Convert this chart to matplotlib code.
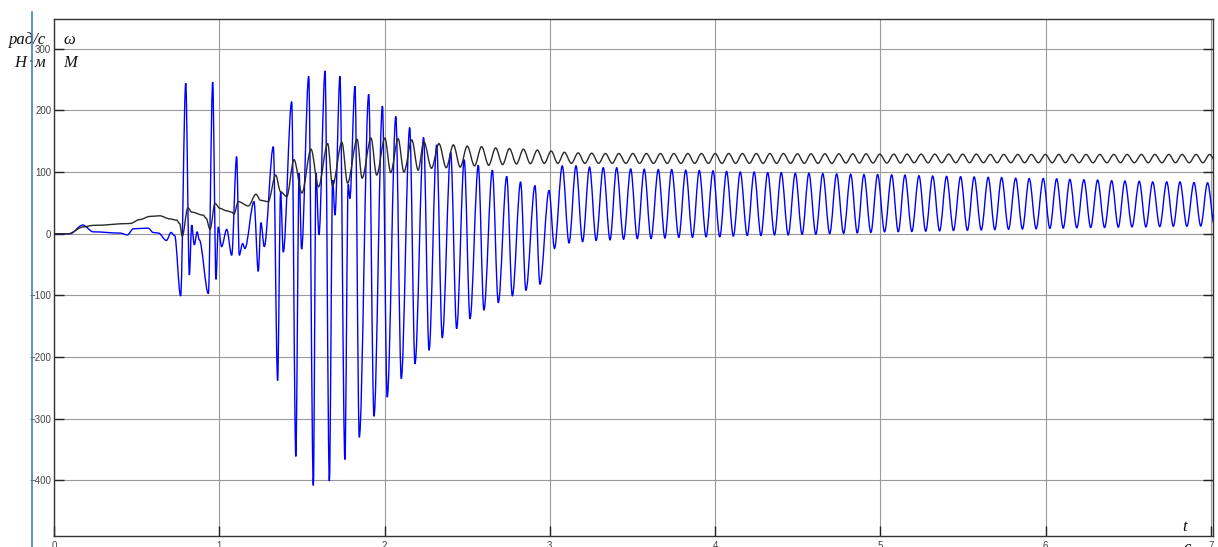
import numpy as np
import matplotlib
matplotlib.use("Agg")
import matplotlib.pyplot as plt
from matplotlib.path import Path
from matplotlib.patches import PathPatch
from matplotlib.lines import Line2D

# ---------------- data ----------------
# omega (black): irregular start-up part
omega_early_t = [0, 0.087, 0.178, 0.238, 0.46, 0.52, 0.58, 0.64, 0.70, 0.742,
                 0.76, 0.776, 0.81, 0.833, 0.903, 0.92, 0.944, 0.974, 1.004, 1.045,
                 1.075, 1.089, 1.115, 1.176, 1.222, 1.25, 1.296, 1.341, 1.371, 1.408,
                 1.452, 1.5, 1.555, 1.6, 1.656, 1.685, 1.742, 1.776, 1.834, 1.864,
                 1.918, 1.952, 2.002, 2.037, 2.082, 2.117, 2.165, 2.203]
omega_early_v = [0, 0, 11, 13.5, 16.5, 23, 28, 29, 24, 22,
                 16.5, -4, 42, 35, 30, 25, 7, 49, 41, 37,
                 35, 32, 52, 45, 64, 54, 52, 95, 68, 60,
                 120, 66, 137, 76, 146, 78, 148, 82, 153, 90,
                 155, 95, 155, 99, 154, 100, 152, 103]
# omega: peaks of the steady oscillation
omega_peak_t = [2.238, 2.329, 2.416, 2.500, 2.587, 2.672, 2.755, 2.840, 2.924, 3.008,
                3.088, 3.171, 3.253, 3.336, 3.417, 3.502, 3.584, 3.669, 3.750, 3.835,
                3.917, 4.000, 4.082, 4.165, 4.249, 4.331, 4.413, 4.498, 4.580, 4.664,
                4.748, 4.833, 4.913, 4.996, 5.081, 5.161, 5.246, 5.329, 5.413, 5.498,
                5.580, 5.665, 5.746, 5.831, 5.913, 5.998, 6.079, 6.159, 6.244, 6.327,
                6.412, 6.492, 6.579, 6.660, 6.745, 6.825, 6.910, 6.992]
omega_peak_v = [149, 146, 144, 142, 141, 139, 138, 137, 135.5, 134,
                132, 131, 130.5, 130, 130, 130, 130, 130, 130, 130,
                130, 130, 130, 130, 130, 130, 130, 129.5, 129.5, 129.5,
                129.5, 129.5, 129.5, 129, 129, 129, 129, 129, 129, 129,
                129, 128.5, 128.5, 128.5, 128.5, 128.5, 128.5, 128.5, 128.5, 128.5,
                128.5, 128.5, 128.5, 128.5, 128.5, 128.5, 128.5, 128.5]
# omega: troughs of the steady oscillation
omega_trough_t = [2.284, 2.373, 2.458, 2.544, 2.630, 2.714, 2.798, 2.882, 2.966, 3.048,
                  3.130, 3.212, 3.295, 3.377, 3.460, 3.543, 3.627, 3.710, 3.793, 3.876,
                  3.959, 4.041, 4.124, 4.207, 4.290, 4.372, 4.456, 4.539, 4.622, 4.706,
                  4.791, 4.873, 4.955, 5.039, 5.121, 5.204, 5.288, 5.371, 5.456, 5.539,
                  5.623, 5.706, 5.789, 5.872, 5.956, 6.039, 6.119, 6.202, 6.286, 6.370,
                  6.452, 6.536, 6.620, 6.703, 6.785, 6.868, 6.951, 7.033]
omega_trough_v = [106, 107, 108, 110, 111, 112, 113, 113.5, 114, 114,
                  114, 114, 114, 114, 114, 114, 114, 114, 114, 114,
                  114, 114, 114, 114, 114, 114, 114, 114, 114, 114,
                  114.5, 114.5, 114.5, 114.5, 114.5, 115, 115, 115, 115, 115,
                  115, 115, 115, 115, 115, 115, 115, 115, 115, 115,
                  115, 115, 115, 115, 115, 115, 115, 115]

# M (blue): irregular start-up and transition part
torque_early_t = [0, 0.097, 0.174, 0.238, 0.40, 0.444, 0.48, 0.57, 0.60, 0.632,
                  0.68, 0.708, 0.73, 0.766, 0.797, 0.819, 0.833, 0.849, 0.866, 0.879,
                  0.934, 0.96, 0.98, 0.994, 1.014, 1.045, 1.075, 1.105, 1.121, 1.141,
                  1.155, 1.21, 1.236, 1.252, 1.272, 1.327, 1.353, 1.371, 1.387, 1.438,
                  1.463, 1.483, 1.498, 1.541, 1.569, 1.585, 1.603, 1.64, 1.666, 1.686,
                  1.70, 1.73, 1.76, 1.78, 1.79, 1.821, 1.847, 1.904, 1.936, 1.987,
                  2.016, 2.068, 2.101, 2.152, 2.184, 2.236, 2.269, 2.315, 2.349, 2.40,
                  2.436, 2.482, 2.517, 2.567, 2.601, 2.652, 2.688, 2.739, 2.773, 2.823,
                  2.855, 2.91, 2.94, 2.995]
torque_early_v = [0, 0, 14, 3, 1, -2, 8, 9, 2, 1,
                  -11, 2, -3, -101, 244, -67, 14, -18, 3, -10,
                  -97, 246, -74, 11, -21, 7, -35, 125, -35, -16,
                  -24, 52, -61, 18, -21, 141, -238, 68, -30, 214,
                  -361, 98, -25, 255, -408, 98, -2, 264, -401, 87,
                  30, 255, -366, 80, 57, 239, -330, 226, -296, 207,
                  -265, 190, -235, 172, -211, 156, -189, 144, -169, 132,
                  -154, 120, -138, 111, -124, 103, -112, 93, -101, 84,
                  -92, 78, -82, 70]
# M: peaks of the steady oscillation
torque_peak_t = [3.075, 3.158, 3.240, 3.323, 3.404, 3.489, 3.571, 3.656, 3.737, 3.822,
                 3.904, 3.987, 4.069, 4.152, 4.236, 4.318, 4.400, 4.485, 4.567, 4.651,
                 4.735, 4.820, 4.900, 4.983, 5.068, 5.148, 5.233, 5.316, 5.400, 5.485,
                 5.567, 5.652, 5.733, 5.818, 5.900, 5.985, 6.066, 6.146, 6.231, 6.314,
                 6.399, 6.479, 6.566, 6.647, 6.732, 6.812, 6.897, 6.979]
torque_peak_v = [110, 110, 108, 107, 107, 105, 104.5, 104, 104, 103,
                 102.5, 102, 101, 100, 100, 99, 99, 98, 98, 97.5,
                 97, 96.5, 96, 96, 95.5, 95, 94, 93.5, 93, 92.5,
                 92, 91.5, 91, 90, 89.5, 89.5, 89, 88, 87.5, 87,
                 86, 85.5, 85, 84, 84, 84, 83, 82.5]
# M: troughs of the steady oscillation
torque_trough_t = [3.028, 3.116, 3.198, 3.280, 3.364, 3.446, 3.529, 3.612, 3.696, 3.780,
                   3.863, 3.945, 4.028, 4.110, 4.194, 4.277, 4.359, 4.442, 4.526, 4.609,
                   4.693, 4.777, 4.860, 4.942, 5.025, 5.108, 5.190, 5.274, 5.358, 5.442,
                   5.526, 5.610, 5.692, 5.775, 5.859, 5.942, 6.025, 6.106, 6.188, 6.272,
                   6.356, 6.439, 6.522, 6.606, 6.690, 6.772, 6.854, 6.938, 7.021]
torque_trough_v = [-24, -15, -13, -11, -10, -9, -8, -8, -7, -6,
                   -6, -5, -5, -4, -3, -3, -2, -2, -1, -1,
                   0, 0.5, 1, 2, 3, 3, 3.5, 4, 4.5, 5,
                   5.5, 6, 6.5, 7, 7.5, 8, 8.5, 9, 9.5, 10,
                   10, 10.5, 11, 11, 11.5, 12, 12, 12.5, 13]

x_ticks = [0, 1, 2, 3, 4, 5, 6, 7]
y_ticks = [-400, -300, -200, -100, 0, 100, 200, 300]


def merge(*pairs):
    t = np.concatenate([np.asarray(p[0], float) for p in pairs])
    v = np.concatenate([np.asarray(p[1], float) for p in pairs])
    o = np.argsort(t, kind="stable")
    return t[o], v[o]


def smooth_path(t, v):
    # cubic Bezier between read extrema with horizontal tangents (drawing style)
    verts = [(t[0], v[0])]
    codes = [Path.MOVETO]
    for i in range(len(t) - 1):
        dt = t[i + 1] - t[i]
        verts += [(t[i] + dt / 3, v[i]), (t[i + 1] - dt / 3, v[i + 1]), (t[i + 1], v[i + 1])]
        codes += [Path.CURVE4] * 3
    return Path(verts, codes)


W, H = 1218, 547
fig = plt.figure(figsize=(W / 100, H / 100), dpi=100)
ax = fig.add_axes([54 / W, 11 / H, 1159 / W, 517 / H])
ax.set_xlim(0, 7.012)
ax.set_ylim(-490, 348)

ax.set_xticks(x_ticks)
ax.set_yticks(y_ticks)
ax.grid(True, color="#9a9a9a", lw=0.8, zorder=0)
ax.tick_params(direction="in", length=7, width=1.0, color="#222222",
               labelsize=7, labelcolor="#444444", top=False, right=True)
ax.tick_params(axis="y", pad=2)
ax.tick_params(axis="x", pad=3.5)
for lab in ax.get_xticklabels() + ax.get_yticklabels():
    lab.set_fontfamily("Liberation Sans")
for s in ax.spines.values():
    s.set_color("#333333")
    s.set_linewidth(1.0)

tb, vb = merge((torque_early_t, torque_early_v), (torque_peak_t, torque_peak_v),
               (torque_trough_t, torque_trough_v))
tk, vk = merge((omega_early_t, omega_early_v), (omega_peak_t, omega_peak_v),
               (omega_trough_t, omega_trough_v))

ax.add_patch(PathPatch(smooth_path(tb, vb), facecolor="none", edgecolor="#0000ff",
                       lw=1.0, zorder=3))
ax.add_patch(PathPatch(smooth_path(tk, vk), facecolor="none", edgecolor="#2a2a2a",
                       lw=1.0, zorder=4))

serif = dict(family="Liberation Serif", style="italic", fontsize=12, color="#111111",
             va="baseline", ha="left")
fig.text(9 / W, 1 - 44 / H, "рад/с", **serif)
fig.text(14 / W, 1 - 67 / H, "Н", **serif)
fig.text(29 / W, 1 - 67 / H, "·", **serif)
fig.text(34 / W, 1 - 67 / H, "м", **serif)
fig.text(63 / W, 1 - 44 / H, "ω", **serif)
fig.text(63 / W, 1 - 67 / H, "М", **serif)
fig.text(1182 / W, 1 - 531 / H, "t", **serif)
fig.text(1183 / W, 1 - 552 / H, "c", **serif)

fig.add_artist(Line2D([31.5 / W, 31.5 / W], [0, 1 - 12 / H], color="#3d7fd0",
                      lw=1.2, transform=fig.transFigure, zorder=10))

fig.savefig("out.png", dpi=100)
